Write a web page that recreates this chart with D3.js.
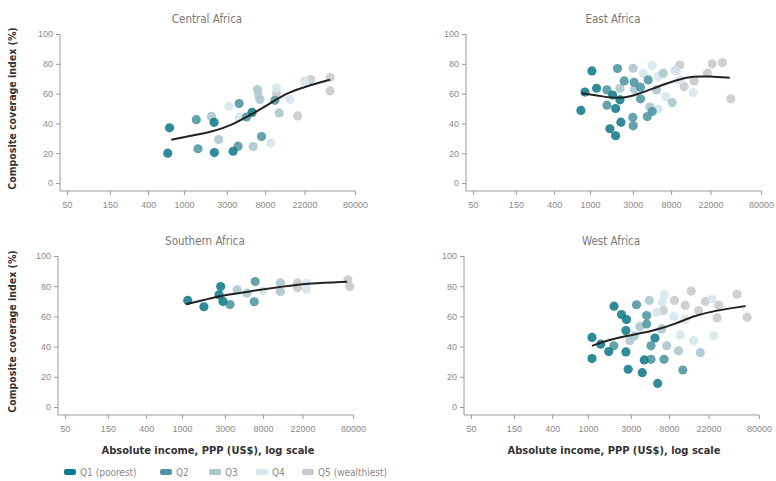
<!DOCTYPE html>
<html lang="en">
<head>
<meta charset="UTF-8">
<title>Composite coverage index by absolute income</title>
<script src="https://d3js.org/d3.v7.min.js"></script>
<style>
    body { margin: 0; background: #fff; }
    svg { font-family: "DejaVu Sans", sans-serif; font-stretch: condensed; }
    .tick text { fill: #8a8a8a; font-size: 9px; }
    .tick line { stroke: #9a9a9a; }
</style>
</head>
<body>
<script>
    // quintile names and colours
    let quintiles = ["Q1 (poorest)", "Q2", "Q3", "Q4", "Q5 (wealthiest)"];
    let colors = ["#127b89", "#4f95a1", "#a9c6cc", "#d5e6ea", "#c8c9ca"];

    let xTicks = [50, 150, 400, 1000, 3000, 8000, 22000, 80000];
    let yTicks = [0, 20, 40, 60, 80, 100];

    // points: [income, coverage, quintile index]
    let central = [
        [692, 37, 0], [661, 20, 0], [2165, 40.7, 0], [2180, 20.4, 0], [3523, 21.3, 0], [5740, 47.4, 0],
        [1373, 42.5, 1], [1432, 23, 1], [4110, 53.3, 1], [4000, 24.7, 1], [4966, 44.3, 1], [7300, 31.2, 1], [10280, 55.5, 1],
        [2018, 44.7, 2], [2437, 29.2, 2], [5890, 24.5, 2], [6998, 56, 2], [11480, 47, 2], [6580, 62.7, 2],
        [3177, 51.5, 3], [4110, 44.3, 3], [9270, 26.7, 3], [10720, 64, 3], [15120, 56.2, 3], [21900, 68.5, 3],
        [6700, 59, 4], [10720, 60, 4], [18400, 45, 4], [25700, 69.4, 4], [42300, 70.8, 4], [42300, 61.8, 4]
    ];
    let east = [
        [794, 48.7, 0], [880, 61, 0], [1052, 75.2, 0], [1186, 63.6, 0], [1668, 36.4, 0], [1930, 31.7, 0],
        [1930, 50, 0], [2210, 40.8, 0], [1786, 59, 0], [2155, 55.8, 0],
        [1545, 62.5, 1], [1545, 52.2, 1], [2027, 76.8, 1], [2404, 68.5, 1], [3027, 38.4, 1], [3000, 44, 1],
        [3095, 67.6, 1], [3652, 64.3, 1], [3652, 56.5, 1], [4447, 69.2, 1], [4350, 44.6, 1], [4935, 48, 1],
        [2155, 63.6, 2], [3020, 77, 2], [3120, 63, 2], [4640, 51, 2], [6530, 73.7, 2], [5500, 62.5, 2], [8220, 54, 2],
        [4935, 78.8, 3], [5760, 71.4, 3], [3915, 73.7, 3], [5760, 49.6, 3], [6980, 58, 3], [9180, 75.2, 3],
        [14070, 60.7, 3], [10000, 69.2, 3],
        [10000, 79.2, 4], [8920, 75.4, 4], [11160, 64.7, 4], [14420, 68.5, 4], [20280, 73.7, 4],
        [22900, 80, 4], [29800, 80.8, 4], [36900, 56.5, 4]
    ];
    let southern = [
        [1161, 70.6, 0], [1755, 66.4, 0], [2700, 79.8, 0], [2584, 74.3, 0], [2863, 69.9, 0],
        [3430, 67.8, 1], [6530, 83.1, 1], [6370, 69.7, 1],
        [4110, 77.6, 2], [12450, 82.2, 2], [12450, 76.5, 2], [5300, 75.4, 2],
        [24300, 82, 3], [24300, 78, 3], [8000, 77, 3],
        [19300, 82.2, 4], [19300, 79, 4], [70100, 84.2, 4], [73800, 79.8, 4]
    ];
    let west = [
        [1109, 46.1, 0], [1109, 32.1, 0], [1387, 41.6, 0], [1703, 36.7, 0], [1953, 66.8, 0], [2362, 61.2, 0],
        [2686, 57.9, 0], [2644, 50.6, 0], [2644, 36.5, 0], [2804, 25, 0], [4016, 22.7, 0], [4235, 31.2, 0],
        [5970, 15.6, 0], [5570, 45.7, 0],
        [3472, 67.7, 1], [4500, 60.6, 1], [4500, 55, 1], [5025, 31.6, 1], [5025, 40.5, 1], [7030, 31.6, 1],
        [11380, 24.5, 1], [1940, 40.5, 1],
        [3780, 53.2, 2], [4820, 70.6, 2], [7530, 40.5, 2], [2926, 43.9, 2], [10170, 37.2, 2], [17780, 36, 2],
        [6620, 51.7, 2], [3300, 47, 2],
        [7070, 74.4, 3], [6700, 69.5, 3], [14960, 43.9, 3], [10600, 47.7, 3], [25060, 47.2, 3], [24000, 71.7, 3],
        [5820, 62.8, 3], [9000, 60, 3], [12000, 58, 3],
        [6920, 63.9, 4], [9180, 70.6, 4], [14090, 76.8, 4], [12070, 67.3, 4], [20230, 69.9, 4],
        [28500, 67.3, 4], [27350, 59, 4], [45700, 74.6, 4], [59100, 59.5, 4], [17010, 63.9, 4]
    ];

    // fitted trend lines: [income, coverage]
    let centralTrend = [[723, 29], [1260, 32], [2100, 34.6], [3240, 38.2], [5400, 45.4], [9040, 53.3], [13870, 60.4], [23200, 65], [42300, 69.4]];
    let eastTrend = [[807, 60.3], [1406, 58], [2155, 56.5], [3300, 59.2], [5500, 64.3], [9180, 69.2], [14070, 71.8], [21530, 71.5], [35900, 70.6]];
    let southernTrend = [[1110, 68.1], [1790, 71], [3010, 74.3], [6590, 77.1], [13200, 79.8], [26500, 82], [68900, 83]];
    let westTrend = [[1109, 40.5], [1675, 44.3], [2804, 47.2], [5570, 50.6], [9330, 55], [15630, 60.6], [26200, 63.9], [56700, 66.8]];

    let panels = [
        {title: "Central Africa", pts: central, trend: centralTrend, ax: 60, top: 34, bottom: 183, yLabel: true, xLabel: false},
        {title: "East Africa", pts: east, trend: eastTrend, ax: 466, top: 34, bottom: 183, yLabel: false, xLabel: false},
        {title: "Southern Africa", pts: southern, trend: southernTrend, ax: 58, top: 256, bottom: 407, yLabel: true, xLabel: true},
        {title: "West Africa", pts: west, trend: westTrend, ax: 464, top: 256, bottom: 407, yLabel: false, xLabel: true}
    ];

    let width = 776;
    let height = 481;

    let svg = d3.select("body").append("svg")
        .attr("width", width)
        .attr("height", height);

    panels.forEach(p => {
        let g = svg.append("g");
        let axisY = p.bottom + 8;

        let x = d3.scaleLog().domain([50, 80000]).range([p.ax + 7, p.ax + 295]);
        let y = d3.scaleLinear().domain([0, 100]).range([p.bottom, p.top]);

        // y axis
        let ya = g.append("g")
            .attr("transform", `translate(${p.ax},0)`)
            .call(d3.axisLeft(y).tickValues(yTicks).tickSize(4).tickSizeOuter(0).tickPadding(3));
        ya.select(".domain").remove();
        g.append("line")
            .attr("x1", p.ax).attr("x2", p.ax)
            .attr("y1", p.top).attr("y2", axisY)
            .attr("stroke", "#9a9a9a");

        // x axis
        let xa = g.append("g")
            .attr("transform", `translate(0,${axisY})`)
            .call(d3.axisBottom(x).tickValues(xTicks).tickFormat(d => d).tickSize(4).tickSizeOuter(0).tickPadding(7));
        xa.select(".domain").remove();
        g.append("line")
            .attr("x1", p.ax).attr("x2", x(80000))
            .attr("y1", axisY).attr("y2", axisY)
            .attr("stroke", "#9a9a9a");

        // title
        g.append("text")
            .attr("x", p.ax + 147)
            .attr("y", p.top - 11)
            .attr("text-anchor", "middle")
            .attr("fill", "#7a7a7a")
            .attr("font-size", "11.5px")
            .text(p.title);

        if (p.yLabel) {
            g.append("text")
                .attr("transform", `translate(16,${(p.top + p.bottom) / 2}) rotate(-90)`)
                .attr("text-anchor", "middle")
                .attr("fill", "#333")
                .attr("font-size", "10.5px")
                .attr("font-weight", "bold")
                .text("Composite coverage index (%)");
        }
        if (p.xLabel) {
            g.append("text")
                .attr("x", p.ax + 150)
                .attr("y", axisY + 39)
                .attr("text-anchor", "middle")
                .attr("fill", "#333")
                .attr("font-size", "11px")
                .attr("font-weight", "bold")
                .text("Absolute income, PPP (US$), log scale");
        }

        // dots, wealthiest first so poorest sit on top
        let sorted = p.pts.slice().sort((a, b) => b[2] - a[2]);
        g.append("g").selectAll("circle")
            .data(sorted)
            .enter().append("circle")
            .attr("cx", d => x(d[0]))
            .attr("cy", d => y(d[1]))
            .attr("r", 4.6)
            .attr("fill", d => colors[d[2]])
            .attr("fill-opacity", 0.88);

        // trend
        let line = d3.line()
            .x(d => x(d[0]))
            .y(d => y(d[1]))
            .curve(d3.curveBasis);
        g.append("path")
            .datum(p.trend)
            .attr("d", line)
            .attr("fill", "none")
            .attr("stroke", "#222")
            .attr("stroke-width", 2);
    });

    // legend
    let legX = [64, 160, 209, 256, 302];
    let legend = svg.append("g").attr("transform", "translate(0,472)");
    quintiles.forEach((q, i) => {
        legend.append("rect")
            .attr("x", legX[i]).attr("y", -3)
            .attr("width", 12).attr("height", 6)
            .attr("rx", 2)
            .attr("fill", colors[i]);
        legend.append("text")
            .attr("x", legX[i] + 16).attr("y", 3.5)
            .attr("fill", "#8a8a8a")
            .attr("font-size", "10px")
            .text(q);
    });
</script>
</body>
</html>
